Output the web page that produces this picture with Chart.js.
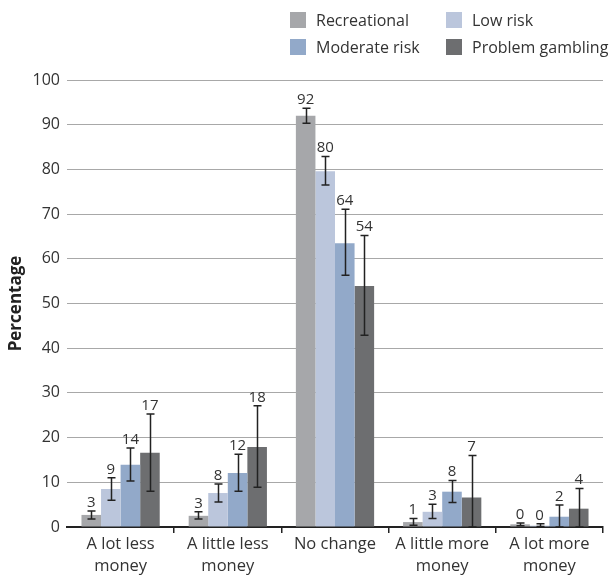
<!DOCTYPE html>
<html>
<head>
<meta charset="utf-8">
<script src="https://cdn.jsdelivr.net/npm/chart.js@4"></script>
<style>
  body { margin: 0; background: #fff; }
  #wrap { position: relative; width: 612px; height: 576px; }
  #legend {
    position: absolute; left: 290px; top: 12px;
    display: grid; grid-template-columns: 156px auto; row-gap: 11px;
    font-family: 'Open Sans', sans-serif; font-size: 16px; color: #333;
    white-space: nowrap;
  }
  .item { display: flex; align-items: center; height: 16px; }
  .box { width: 16px; height: 16px; margin-right: 10px; flex: none; }
</style>
</head>
<body>
<div id="wrap">
  <canvas id="chart" width="612" height="576"></canvas>
  <div id="legend"></div>
</div>
<script>
const categories = [['A lot less', 'money'], ['A little less', 'money'], 'No change', ['A little more', 'money'], ['A lot more', 'money']];
const seriesNames = ['Recreational', 'Low risk', 'Moderate risk', 'Problem gambling'];
const seriesColors = ['#a6a7aa', '#bbc6dc', '#92a9c9', '#6d6e70'];

// bar heights (%)
const recreational = [2.7, 2.5, 92.0, 1.1, 0.6];
const lowRisk = [8.5, 7.6, 79.6, 3.4, 0.3];
const moderateRisk = [13.9, 12.1, 63.5, 7.9, 2.3];
const problemGambling = [16.6, 17.9, 53.9, 6.6, 4.1];

// printed labels
const recreationalLabels = [3, 3, 92, 1, 0];
const lowRiskLabels = [9, 8, 80, 3, 0];
const moderateRiskLabels = [14, 12, 64, 8, 2];
const problemGamblingLabels = [17, 18, 54, 7, 4];

// confidence intervals
const recreationalLow = [1.8, 1.8, 90.3, 0.4, 0.3];
const recreationalHigh = [3.6, 3.4, 93.7, 1.9, 0.9];
const lowRiskLow = [6.0, 5.6, 76.5, 1.9, 0.1];
const lowRiskHigh = [11.0, 9.6, 82.9, 5.1, 0.7];
const moderateRiskLow = [10.3, 8.0, 56.3, 5.5, 0];
const moderateRiskHigh = [17.7, 16.3, 71.1, 10.4, 4.9];
const problemGamblingLow = [8.0, 8.9, 42.9, 0, 0];
const problemGamblingHigh = [25.3, 27.1, 65.2, 16.0, 8.6];

const yTicks = [0, 10, 20, 30, 40, 50, 60, 70, 80, 90, 100];

const values = [recreational, lowRisk, moderateRisk, problemGambling];
const labels = [recreationalLabels, lowRiskLabels, moderateRiskLabels, problemGamblingLabels];
const lows = [recreationalLow, lowRiskLow, moderateRiskLow, problemGamblingLow];
const highs = [recreationalHigh, lowRiskHigh, moderateRiskHigh, problemGamblingHigh];

const FONT = "'Open Sans', sans-serif";

// error bars + value labels
const errorBars = {
  id: 'errorBars',
  afterDatasetsDraw(chart) {
    const ctx = chart.ctx;
    const y = chart.scales.y;
    ctx.save();
    ctx.strokeStyle = '#222';
    ctx.lineWidth = 1.5;
    ctx.fillStyle = '#333';
    ctx.font = '15px ' + FONT;
    ctx.textAlign = 'center';
    ctx.textBaseline = 'bottom';
    chart.data.datasets.forEach((ds, i) => {
      chart.getDatasetMeta(i).data.forEach((bar, j) => {
        const x = Math.round(bar.x) + 0.5;
        const yHi = y.getPixelForValue(ds.high[j]);
        const yLo = y.getPixelForValue(ds.low[j]);
        ctx.beginPath();
        ctx.moveTo(x, yLo); ctx.lineTo(x, yHi);
        ctx.moveTo(x - 4, yHi); ctx.lineTo(x + 4, yHi);
        ctx.moveTo(x - 4, yLo); ctx.lineTo(x + 4, yLo);
        ctx.stroke();
        ctx.fillText(String(ds.labels[j]), bar.x, yHi - 1);
      });
    });
    ctx.restore();
  }
};

const chart = new Chart(document.getElementById('chart'), {
  type: 'bar',
  data: {
    labels: categories,
    datasets: seriesNames.map((name, i) => ({
      label: name,
      data: values[i],
      backgroundColor: seriesColors[i],
      low: lows[i],
      high: highs[i],
      labels: labels[i],
      barPercentage: 1.0,
      categoryPercentage: 0.73
    }))
  },
  options: {
    responsive: false,
    animation: false,
    layout: { padding: { top: 80, right: 9, bottom: 0, left: 0 } },
    plugins: { legend: { display: false }, tooltip: { enabled: false } },
    scales: {
      x: {
        offset: true,
        grid: {
          offset: true,
          drawOnChartArea: false,
          tickLength: 6,
          lineWidth: 1.5,
          color: c => (c.index === 0 || c.index === categories.length) ? 'rgba(0,0,0,0)' : '#222'
        },
        border: { color: '#222', width: 2 },
        ticks: {
          font: { family: FONT, size: 16.5, lineHeight: 1.3 },
          color: '#333',
          padding: 1,
          maxRotation: 0
        },
        afterFit: s => { s.height = 49; }
      },
      y: {
        min: 0,
        max: 100,
        afterBuildTicks: s => { s.ticks = yTicks.map(v => ({ value: v })); },
        grid: { color: '#a8a8a8', lineWidth: 1, drawTicks: false },
        border: { display: false },
        ticks: {
          font: { family: FONT, size: 16 },
          color: '#333',
          padding: 7
        },
        title: {
          display: true,
          text: 'Percentage',
          font: { family: FONT, size: 17, weight: 'bold' },
          color: '#222',
          padding: { top: 6, bottom: 0 }
        },
        afterFit: s => { s.width = 67; }
      }
    }
  },
  plugins: [errorBars]
});

// legend, two columns
const legend = document.getElementById('legend');
chart.data.datasets.forEach(ds => {
  const item = document.createElement('div');
  item.className = 'item';
  const box = document.createElement('span');
  box.className = 'box';
  box.style.background = ds.backgroundColor;
  item.appendChild(box);
  item.appendChild(document.createTextNode(ds.label));
  legend.appendChild(item);
});
</script>
</body>
</html>
